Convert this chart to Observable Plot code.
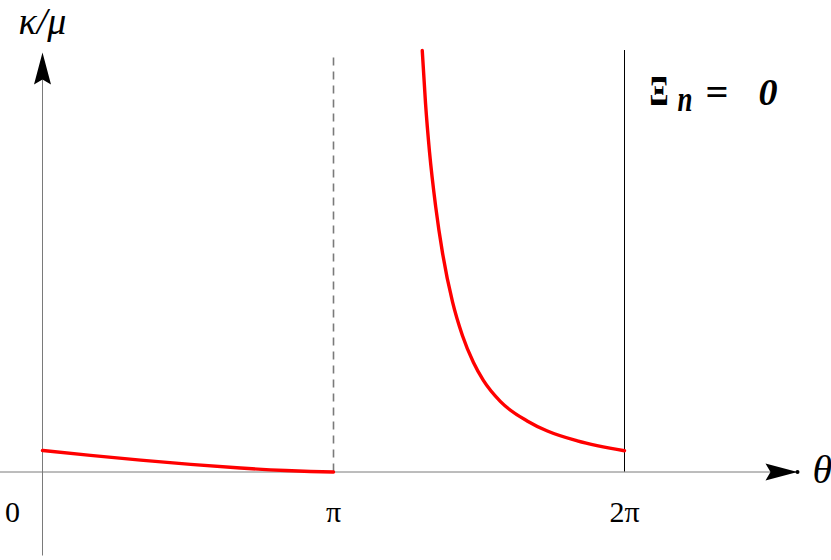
<!DOCTYPE html>
<html><head><meta charset="utf-8">
<script src="https://cdn.jsdelivr.net/npm/d3@7"></script>
<script src="https://cdn.jsdelivr.net/npm/@observablehq/plot@0.6"></script>
<style>body{margin:0;background:#fff} svg{display:block;background:#fff}</style>
</head><body><div id="chart"></div>
<script>
// θ given in units of π, κ/μ in arbitrary units
const leftTheta = [0, 0.165, 0.337, 0.509, 0.680, 0.835, 0.921, 1.0];
const leftKappa = [1.024, 0.790, 0.567, 0.362, 0.190, 0.071, 0.024, 0];
const rightTheta = [1.305, 1.316, 1.330, 1.351, 1.375, 1.409, 1.443, 1.481, 1.515, 1.574, 1.667, 1.735, 1.838, 2.0];
const rightKappa = [20.07, 17.60, 15.23, 12.65, 10.40, 8.10, 6.50, 5.21, 4.36, 3.35, 2.42, 1.95, 1.48, 1.01];
const tickValues = [0, 1, 2];
const tickLabels = ["0", "π", "2π"];
const tickLabelPos = [-0.103, 1, 2];
const xAxisStart = -0.1443, xAxisEnd = 2.5945;
const yAxisStart = -4.0, yAxisEnd = 19.98;
const dashedTop = 19.83, solidTop = 20.07;
const xLabel = "θ", yLabel = "κ/μ";

const leftData = leftTheta.map((t, i) => ({t, k: leftKappa[i]}));
const rightData = rightTheta.map((t, i) => ({t, k: rightKappa[i]}));
const ticks = tickValues.map((v, i) => ({v, label: tickLabels[i], pos: tickLabelPos[i]}));

const arrowSymbol = {
  draw(ctx) {
    ctx.moveTo(0, 0);
    ctx.lineTo(-32, -8.5);
    ctx.lineTo(-27, 0);
    ctx.lineTo(-32, 8.5);
    ctx.closePath();
  }
};

const serif = "Liberation Serif, Times New Roman, serif";
const gray = "#7a7a7a";

const chart = Plot.plot({
  width: 831, height: 560, margin: 0,
  x: {domain: [-42/291, 789/291], axis: null},
  y: {domain: [-88.5/21, 471.5/21], axis: null},
  style: {fontFamily: serif, background: "#fff"},
  marks: [
    Plot.ruleY([0], {x1: xAxisStart, x2: xAxisEnd, stroke: gray, strokeWidth: 1}),
    Plot.ruleX([0], {y1: yAxisStart, y2: yAxisEnd - 1, stroke: gray, strokeWidth: 1}),
    Plot.ruleX([tickValues[1]], {y1: 0, y2: dashedTop, stroke: gray, strokeWidth: 1.6, strokeDasharray: "8,6"}),
    Plot.ruleX([tickValues[2]], {y1: 0, y2: solidTop, stroke: "black", strokeWidth: 1}),
    Plot.dot([{x: xAxisEnd, y: 0}], {x: "x", y: "y", r: 10, symbol: arrowSymbol, fill: "black", stroke: "none"}),
    Plot.dot([{x: xAxisEnd, y: 0}], {x: "x", y: "y", r: 2, fill: "black", stroke: "none"}),
    Plot.dot([{x: 0, y: yAxisEnd}], {x: "x", y: "y", r: 10, symbol: arrowSymbol, rotate: -90, fill: "black", stroke: "none"}),
    Plot.line(leftData, {x: "t", y: "k", stroke: "#ff0000", strokeWidth: 3.4, curve: "monotone-x"}),
    Plot.line(rightData, {x: "t", y: "k", stroke: "#ff0000", strokeWidth: 3.4, curve: "monotone-x"}),
    Plot.text(ticks, {x: "pos", y: () => 0, text: "label", dy: 50, lineAnchor: "bottom", textAnchor: "middle", fontSize: 30, fill: "black"}),
    Plot.text([xLabel], {x: () => xAxisEnd, y: () => 0, text: d => d, dx: 15, dy: 11, lineAnchor: "bottom", textAnchor: "start", fontSize: 40, fontStyle: "italic", fill: "black"}),
    Plot.text([yLabel], {frameAnchor: "top-left", text: d => d, dx: 42, dy: 33, lineAnchor: "bottom", textAnchor: "middle", fontSize: 38, fontStyle: "italic", fill: "black"}),
    Plot.text(["Ξ"], {frameAnchor: "top-left", text: d => d, dx: 649, dy: 104, lineAnchor: "bottom", textAnchor: "start", fontSize: 42, fontWeight: "bold", fill: "black"}),
    Plot.text(["n"], {frameAnchor: "top-left", text: d => d, dx: 677, dy: 110, lineAnchor: "bottom", textAnchor: "start", fontSize: 36, fontWeight: "bold", fontStyle: "italic", fill: "black"}),
    Plot.text(["="], {frameAnchor: "top-left", text: d => d, dx: 705, dy: 104, lineAnchor: "bottom", textAnchor: "start", fontSize: 38, fontWeight: "bold", fill: "black"}),
    Plot.text(["0"], {frameAnchor: "top-left", text: d => d, dx: 758, dy: 104, lineAnchor: "bottom", textAnchor: "start", fontSize: 38, fontWeight: "bold", fontStyle: "italic", fill: "black"})
  ]
});
const fitWidths = {"Ξ": 19, "=": 23, "n": 15};
d3.select(chart).selectAll("text").each(function() {
  const w = fitWidths[this.textContent];
  if (w) { this.setAttribute("textLength", w); this.setAttribute("lengthAdjust", "spacingAndGlyphs"); }
});
document.getElementById("chart").appendChild(chart);
</script>
</body></html>
